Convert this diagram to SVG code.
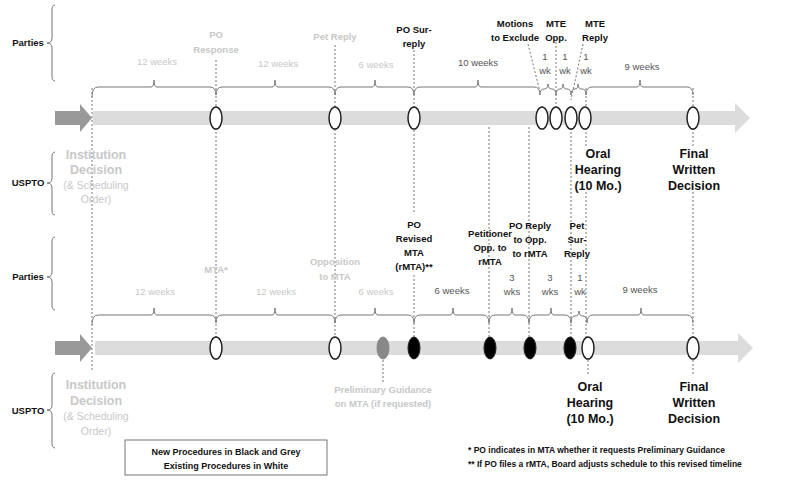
<svg xmlns="http://www.w3.org/2000/svg" width="800" height="482" viewBox="0 0 800 482">
<style>
text{font-family:"Liberation Sans",Arial,sans-serif;text-anchor:middle}
.b{font-weight:bold;font-size:9.5px;fill:#111}
.g{font-weight:bold;font-size:9.5px;fill:#c8c8c8}
.w{font-size:9.5px;fill:#c8c8c8}
.wk{font-size:9.5px;fill:#555}
.big{font-weight:bold;font-size:12.5px;fill:#111}
.bigg{font-weight:bold;font-size:12.5px;fill:#c8c8c8}
.sg{font-size:10.5px;fill:#c8c8c8}
.fn{font-weight:bold;font-size:8.5px;fill:#111;text-anchor:start}
.br{fill:none;stroke:#777;stroke-width:1}
.d{stroke:#777;stroke-width:1;stroke-dasharray:2,2;fill:none}
.ow{fill:#fff;stroke:#222;stroke-width:1.5}
.ob{fill:#000;stroke:#222;stroke-width:1}
.og{fill:#888;stroke:#888}
</style>
<g id="connectors">
<line class="d" x1="92" y1="88" x2="92" y2="372"/>
<line class="d" x1="216" y1="60" x2="216" y2="338"/>
<line class="d" x1="335" y1="45" x2="335" y2="336"/>
<line class="d" x1="414" y1="50" x2="414" y2="212"/>
<line class="d" x1="414" y1="275" x2="414" y2="338"/>
<line class="d" x1="489" y1="127" x2="489" y2="338"/>
<line class="d" x1="529" y1="127" x2="529" y2="338"/>
<line class="d" x1="556" y1="42" x2="556" y2="106"/>
<line class="d" x1="571" y1="128" x2="571" y2="338"/>
<line class="d" x1="586" y1="88" x2="586" y2="148"/>
<line class="d" x1="586" y1="192" x2="586" y2="338"/>
<line class="d" x1="588" y1="360" x2="588" y2="375"/>
<line class="d" x1="693" y1="88" x2="693" y2="148"/>
<line class="d" x1="693" y1="192" x2="693" y2="338"/>
<line class="d" x1="693" y1="360" x2="693" y2="375"/>
<line class="d" x1="383" y1="360" x2="383" y2="382"/>
<line class="d" x1="528" y1="44" x2="540" y2="92"/>
<line class="d" x1="583" y1="44" x2="571" y2="100"/>
</g>
<g id="timeline-top">
<polygon points="55,111 80,111 80,104 92,118 80,132 80,125 55,125" fill="#999"/>
<polygon points="93,111 735,111 735,103 750,118 735,133 735,125 93,125" fill="#dcdcdc"/>
</g>
<g id="timeline-bottom">
<polygon points="55,341 80,341 80,334 92,348 80,362 80,355 55,355" fill="#999"/>
<polygon points="95,341 738,341 738,333 753,348 738,363 738,355 95,355" fill="#dcdcdc"/>
</g>
<g id="braces">
<path class="br" d="M55,5 Q52,5 52,10 L52,38 Q52,43 47,43 Q52,43 52,48 L52,76 Q52,81 55,81"/>
<path class="br" d="M55,152 Q52,152 52,157 L52,178 Q52,183 47,183 Q52,183 52,188 L52,210 Q52,215 55,215"/>
<path class="br" d="M55,237 Q52,237 52,242 L52,272 Q52,277 47,277 Q52,277 52,282 L52,305 Q52,310 55,310"/>
<path class="br" d="M55,373 Q52,373 52,378 L52,405 Q52,410 47,410 Q52,410 52,415 L52,443 Q52,448 55,448"/>
<path class="br" d="M92,97 Q92,87 98,87 L151,87 Q154,87 154,80 Q154,87 157,87 L210,87 Q216,87 216,95"/>
<path class="br" d="M216,95 Q216,87 222,87 L272,87 Q275,87 275,80 Q275,87 278,87 L329,87 Q335,87 335,95"/>
<path class="br" d="M335,95 Q335,87 341,87 L372,87 Q375,87 375,80 Q375,87 378,87 L408,87 Q414,87 414,95"/>
<path class="br" d="M414,95 Q414,87 420,87 L475,87 Q478,87 478,80 Q478,87 481,87 L534,87 Q540,87 540,95"/>
<path class="br" d="M540,95 Q540,89 544,89 Q548,89 548,84 Q548,89 552,89 Q556,89 556,95"/>
<path class="br" d="M556,95 Q556,89 560,89 Q563,89 563,84 Q563,89 567,89 Q571,89 571,95"/>
<path class="br" d="M571,95 Q571,89 575,89 Q578,89 578,84 Q578,89 582,89 Q586,89 586,95"/>
<path class="br" d="M586,95 Q586,87 592,87 L637,87 Q640,87 640,80 Q640,87 643,87 L687,87 Q693,87 693,95"/>
<path class="br" d="M92,325 Q92,315 98,315 L151,315 Q154,315 154,308 Q154,315 157,315 L210,315 Q216,315 216,323"/>
<path class="br" d="M216,323 Q216,315 222,315 L272,315 Q275,315 275,308 Q275,315 278,315 L329,315 Q335,315 335,323"/>
<path class="br" d="M335,323 Q335,315 341,315 L372,315 Q375,315 375,308 Q375,315 378,315 L408,315 Q414,315 414,323"/>
<path class="br" d="M414,323 Q414,315 420,315 L450,315 Q453,315 453,308 Q453,315 456,315 L483,315 Q489,315 489,323"/>
<path class="br" d="M489,323 Q489,315 495,315 L509,315 Q512,315 512,308 Q512,315 515,315 L523,315 Q529,315 529,323"/>
<path class="br" d="M529,323 Q529,315 535,315 L548,315 Q551,315 551,308 Q551,315 554,315 L565,315 Q571,315 571,323"/>
<path class="br" d="M571,323 Q571,316 575,316 Q579,316 579,311 Q579,316 583,316 Q587,316 587,323"/>
<path class="br" d="M587,323 Q587,315 593,315 L638,315 Q641,315 641,308 Q641,315 644,315 L687,315 Q693,315 693,323"/>
</g>
<g id="nodes-top">
<ellipse class="ow" cx="216" cy="118" rx="6" ry="11"/>
<ellipse class="ow" cx="335" cy="118" rx="6" ry="11"/>
<ellipse class="ow" cx="414" cy="118" rx="6" ry="11"/>
<ellipse class="ow" cx="542" cy="118" rx="6" ry="11"/>
<ellipse class="ow" cx="556" cy="118" rx="6" ry="11"/>
<ellipse class="ow" cx="571" cy="118" rx="6" ry="11"/>
<ellipse class="ow" cx="585" cy="118" rx="6" ry="11"/>
<ellipse class="ow" cx="693" cy="118" rx="6" ry="11"/>
</g>
<g id="nodes-bottom">
<ellipse class="ow" cx="216" cy="348" rx="6" ry="11"/>
<ellipse class="ow" cx="335" cy="348" rx="6" ry="11"/>
<ellipse class="og" cx="383" cy="348" rx="6" ry="11"/>
<ellipse class="ob" cx="414" cy="348" rx="6" ry="11"/>
<ellipse class="ob" cx="490" cy="348" rx="6" ry="11"/>
<ellipse class="ob" cx="530" cy="348" rx="6" ry="11"/>
<ellipse class="ob" cx="570" cy="348" rx="6" ry="11"/>
<ellipse class="ow" cx="588" cy="348" rx="6" ry="11"/>
<ellipse class="ow" cx="693" cy="348" rx="6" ry="11"/>
</g>
<g id="labels-top">
<text class="b" x="28" y="46">Parties</text>
<text class="b" x="28" y="186">USPTO</text>
<text class="w" x="157" y="65">12 weeks</text>
<text class="g" x="216" y="38">PO</text>
<text class="g" x="216" y="53">Response</text>
<text class="w" x="278" y="67">12 weeks</text>
<text class="g" x="335" y="40">Pet Reply</text>
<text class="w" x="376" y="68">6 weeks</text>
<text class="b" x="414" y="33">PO Sur-</text>
<text class="b" x="414" y="47">reply</text>
<text class="wk" x="478" y="66">10 weeks</text>
<text class="b" x="515" y="27">Motions</text>
<text class="b" x="515" y="41">to Exclude</text>
<text class="b" x="556" y="27">MTE</text>
<text class="b" x="556" y="41">Opp.</text>
<text class="b" x="595" y="27">MTE</text>
<text class="b" x="595" y="41">Reply</text>
<text class="wk" x="545" y="60">1</text><text class="wk" x="545" y="74">wk</text>
<text class="wk" x="565" y="60">1</text><text class="wk" x="565" y="74">wk</text>
<text class="wk" x="586" y="60">1</text><text class="wk" x="586" y="74">wk</text>
<text class="wk" x="642" y="70">9 weeks</text>
<text class="bigg" x="96" y="159">Institution</text>
<text class="bigg" x="96" y="174">Decision</text>
<text class="sg" x="96" y="189">(&amp; Scheduling</text>
<text class="sg" x="96" y="203">Order)</text>
<text class="big" x="598" y="158">Oral</text>
<text class="big" x="598" y="174">Hearing</text>
<text class="big" x="598" y="190">(10 Mo.)</text>
<text class="big" x="694" y="158">Final</text>
<text class="big" x="694" y="174">Written</text>
<text class="big" x="694" y="190">Decision</text>
</g>
<g id="labels-bottom">
<text class="b" x="28" y="280">Parties</text>
<text class="b" x="28" y="414">USPTO</text>
<text class="w" x="155" y="295">12 weeks</text>
<text class="g" x="216" y="273">MTA*</text>
<text class="w" x="276" y="295">12 weeks</text>
<text class="g" x="335" y="265">Opposition</text>
<text class="g" x="335" y="280">to MTA</text>
<text class="w" x="376" y="295">6 weeks</text>
<text class="b" x="414" y="228">PO</text>
<text class="b" x="414" y="242">Revised</text>
<text class="b" x="414" y="256">MTA</text>
<text class="b" x="414" y="270">(rMTA)**</text>
<text class="wk" x="452" y="294">6 weeks</text>
<text class="b" x="490" y="237">Petitioner</text>
<text class="b" x="490" y="251">Opp. to</text>
<text class="b" x="490" y="265">rMTA</text>
<text class="wk" x="512" y="281">3</text><text class="wk" x="512" y="295">wks</text>
<text class="b" x="530" y="229">PO Reply</text>
<text class="b" x="530" y="243">to Opp.</text>
<text class="b" x="530" y="257">to rMTA</text>
<text class="wk" x="550" y="281">3</text><text class="wk" x="550" y="295">wks</text>
<text class="b" x="577" y="229">Pet</text>
<text class="b" x="577" y="243">Sur-</text>
<text class="b" x="577" y="257">Reply</text>
<text class="wk" x="580" y="281">1</text><text class="wk" x="580" y="295">wk</text>
<text class="wk" x="640" y="293">9 weeks</text>
<text class="g" x="383" y="393">Preliminary Guidance</text>
<text class="g" x="383" y="407">on MTA (if requested)</text>
<text class="bigg" x="96" y="389">Institution</text>
<text class="bigg" x="96" y="405">Decision</text>
<text class="sg" x="96" y="420">(&amp; Scheduling</text>
<text class="sg" x="96" y="435">Order)</text>
<text class="big" x="590" y="391">Oral</text>
<text class="big" x="590" y="407">Hearing</text>
<text class="big" x="590" y="423">(10 Mo.)</text>
<text class="big" x="694" y="391">Final</text>
<text class="big" x="694" y="407">Written</text>
<text class="big" x="694" y="423">Decision</text>
</g>
<g id="legend">
<rect x="125" y="440" width="202" height="35" fill="#fff" stroke="#777"/>
<text class="b" x="226" y="455" style="font-size:9px">New Procedures in Black and Grey</text>
<text class="b" x="226" y="469" style="font-size:9px">Existing Procedures in White</text>
<text class="fn" x="468" y="453">*  PO indicates in MTA whether it requests Preliminary Guidance</text>
<text class="fn" x="468" y="467">**  If PO files a rMTA, Board adjusts schedule to this revised timeline</text>
</g>
</svg>
